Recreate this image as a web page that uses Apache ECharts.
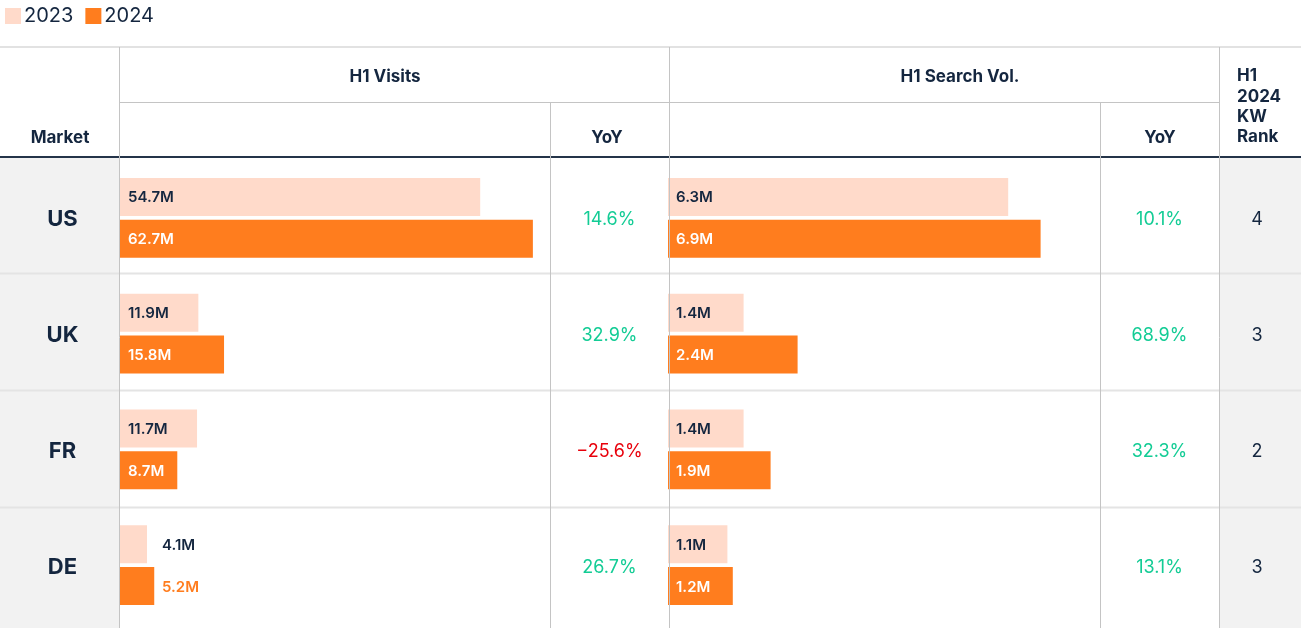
<!DOCTYPE html>
<html><head><meta charset="utf-8">
<script src="https://cdn.jsdelivr.net/npm/echarts@6/dist/echarts.min.js"></script>
<style>html,body{margin:0;padding:0;background:#fff}#c{width:1301px;height:628px}</style>
</head><body><div id="c"></div>
<script>
const markets = ['US', 'UK', 'FR', 'DE'];
const visits2023 = [54.7, 11.9, 11.7, 4.1];
const visits2024 = [62.7, 15.8, 8.7, 5.2];
const visitsYoY = [14.6, 32.9, -25.6, 26.7];
const search2023 = [6.3, 1.4, 1.4, 1.1];
const search2024 = [6.9, 2.4, 1.9, 1.2];
const searchYoY = [10.1, 68.9, 32.3, 13.1];
const kwRank = [4, 3, 2, 3];

const NAVY = '#14263f', C23 = '#ffdaca', C24 = '#ff7d1e', GREEN = '#13cc95', RED = '#e8000b';
const FONT = 'Inter';
const TOP = 160, H = 463;

const chart = echarts.init(document.getElementById('c'), null, {renderer: 'canvas'});

function grid(left, width) { return {left, width, top: TOP, height: H, containLabel: false}; }
function yAx(g) { return {type: 'category', data: markets, inverse: true, gridIndex: g, show: false}; }
function xAx(g, max) { return {type: 'value', min: 0, max, gridIndex: g, show: false}; }

function barLabel(vals, smallIdx, smallColor) {
  return vals.map((v, i) => {
    if (smallIdx.includes(i)) {
      return {value: v, label: {position: [42, '50%'], verticalAlign: 'middle', align: 'left', color: smallColor}};
    }
    return v;
  });
}
const lblBase = (color) => ({show: true, position: 'insideLeft', distance: 8, offset: [0, 1], color, fontFamily: FONT, fontWeight: 600, fontSize: 15, formatter: p => p.value + 'M'});

function textSeries(name, g, vals, fmt, colorFn, size, weight) {
  return {
    type: 'scatter', name, xAxisIndex: g, yAxisIndex: g, symbolSize: 1, silent: true,
    itemStyle: {color: 'rgba(0,0,0,0)', opacity: 1},
    data: vals.map((v, i) => ({value: [0.5, markets[i]],
      label: {show: true, position: 'inside', offset: [0, 2], formatter: fmt(v), color: colorFn(v), opacity: 1, fontFamily: FONT, fontSize: size, fontWeight: weight}})),
    z: 5
  };
}
const pct = v => (v < 0 ? '\u2212' + Math.abs(v).toFixed(1) : v.toFixed(1)) + '%';

const vline = (x, y1) => ({type: 'line', shape: {x1: x, y1, x2: x, y2: 628}, style: {stroke: '#c4c4c4', lineWidth: 1}, z: 50});
const hline = (y, x1, x2, color, w) => ({type: 'line', shape: {x1, y1: y, x2, y2: y}, style: {stroke: color, lineWidth: w}, z: 49});
const txt = (x, y, text, align, size) => ({type: 'text', x, y, style: {text, fill: NAVY, font: `700 ${size || 17}px ${FONT}`, textAlign: align || 'center', textVerticalAlign: 'middle'}, z: 60});

const option = {
  animation: false,
  legend: {
    data: ['2023', '2024'], left: 0, top: 1, icon: 'rect', itemWidth: 16, itemHeight: 16, itemGap: 12,
    textStyle: {color: NAVY, fontFamily: FONT, fontSize: 20, padding: [0, 0, 0, -2]}, selectedMode: false
  },
  grid: [grid(120, 430), grid(668, 432), grid(550, 119), grid(1100, 119), grid(3, 119), grid(1216, 82)],
  xAxis: [xAx(0, 65.3), xAx(1, 8), xAx(2, 1), xAx(3, 1), xAx(4, 1), xAx(5, 1)],
  yAxis: [yAx(0), yAx(1), yAx(2), yAx(3), yAx(4), yAx(5)],
  graphic: [
    {type: 'rect', shape: {x: 0, y: 158, width: 119, height: 470}, style: {fill: '#f2f2f2'}, z: 1},
    {type: 'rect', shape: {x: 1220, y: 158, width: 81, height: 470}, style: {fill: '#f2f2f2'}, z: 1},
    hline(47, 0, 1301, '#e2e2e2', 2),
    hline(102.5, 119, 1219, '#c4c4c4', 1),
    hline(273.5, 0, 1301, '#e4e4e4', 2),
    hline(390.5, 0, 1301, '#e4e4e4', 2),
    hline(507.5, 0, 1301, '#e4e4e4', 2),
    vline(119.5, 47), vline(550.5, 102), vline(669.5, 47), vline(1100.5, 102), vline(1219.5, 47),
    hline(157, 0, 1301, '#243449', 2),
    txt(385, 77, 'H1 Visits'),
    txt(960, 77, 'H1 Search Vol.'),
    txt(60, 138, 'Market'),
    txt(607, 138, 'YoY'),
    txt(1160, 138, 'YoY'),
    txt(1237, 76, 'H1', 'left'),
    txt(1237, 97, '2024', 'left'),
    txt(1237, 117, 'KW', 'left'),
    txt(1237, 137, 'Rank', 'left')
  ],
  series: [
    {type: 'bar', name: '2023', xAxisIndex: 0, yAxisIndex: 0, barWidth: 38, barGap: '10%', itemStyle: {color: C23},
      label: lblBase(NAVY), data: barLabel(visits2023, [3], NAVY), z: 3},
    {type: 'bar', name: '2024', xAxisIndex: 0, yAxisIndex: 0, barWidth: 38, barGap: '10%', itemStyle: {color: C24},
      label: lblBase('#fff'), data: barLabel(visits2024, [3], C24), z: 3},
    {type: 'bar', name: '2023', xAxisIndex: 1, yAxisIndex: 1, barWidth: 38, barGap: '10%', itemStyle: {color: C23},
      label: lblBase(NAVY), data: search2023, z: 3},
    {type: 'bar', name: '2024', xAxisIndex: 1, yAxisIndex: 1, barWidth: 38, barGap: '10%', itemStyle: {color: C24},
      label: lblBase('#fff'), data: search2024, z: 3},
    textSeries('visitsYoY', 2, visitsYoY, v => pct(v), v => v < 0 ? RED : GREEN, 18, 400),
    textSeries('searchYoY', 3, searchYoY, v => pct(v), v => v < 0 ? RED : GREEN, 18, 400),
    textSeries('market', 4, markets, v => v, v => NAVY, 22, 700),
    textSeries('rank', 5, kwRank, v => String(v), v => NAVY, 18, 400)
  ]
};
chart.setOption(option);
</script>
</body></html>
